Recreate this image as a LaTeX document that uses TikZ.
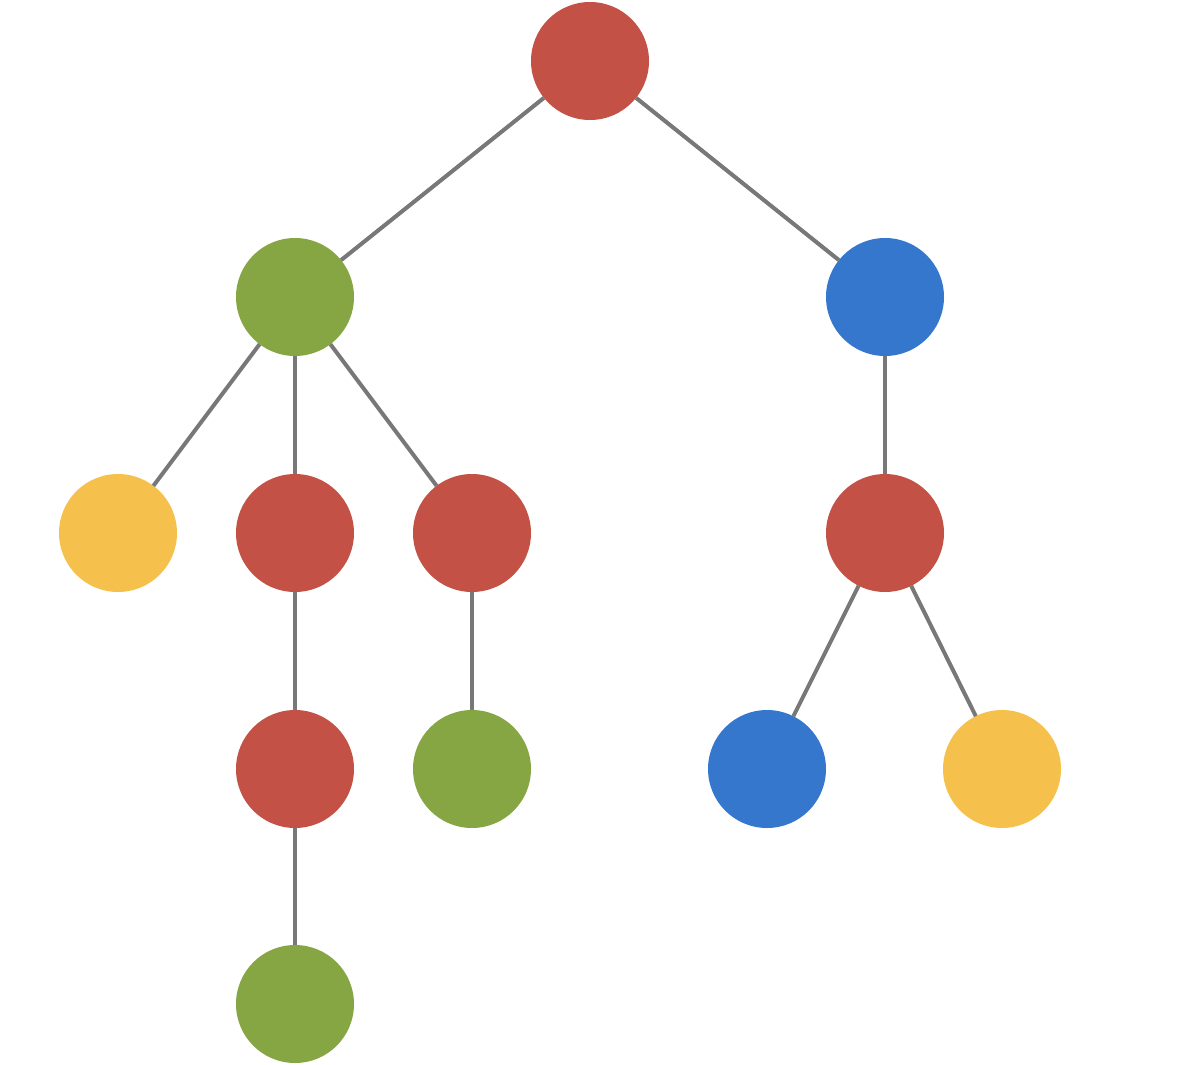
\documentclass[tikz,border=0pt]{standalone}
\definecolor{nred}{RGB}{195,81,69}
\definecolor{ngreen}{RGB}{134,166,68}
\definecolor{nblue}{RGB}{54,119,206}
\definecolor{nyellow}{RGB}{245,193,76}
\definecolor{edgegray}{RGB}{120,120,120}
\begin{document}
\begin{tikzpicture}[x=1bp,y=-1bp,
  dot/.style={circle,minimum size=118bp,inner sep=0pt,outer sep=0pt},
  rdot/.style={dot,fill=nred},
  gdot/.style={dot,fill=ngreen},
  bdot/.style={dot,fill=nblue},
  ydot/.style={dot,fill=nyellow},
  edge/.style={draw=edgegray,line width=4bp}]
\useasboundingbox (0,0) rectangle (1180,1065);
\node[rdot] (root) at (590,61) {};
\node[gdot] (g1) at (295,297) {};
\node[bdot] (b1) at (885,297) {};
\node[ydot] (y1) at (118,533) {};
\node[rdot] (r1) at (295,533) {};
\node[rdot] (r2) at (472,533) {};
\node[rdot] (r3) at (885,533) {};
\node[rdot] (r4) at (295,769) {};
\node[gdot] (g2) at (472,769) {};
\node[bdot] (b2) at (767,769) {};
\node[ydot] (y2) at (1002,769) {};
\node[gdot] (g3) at (295,1004) {};
\path[edge] (root) -- (g1);
\path[edge] (root) -- (b1);
\path[edge] (g1) -- (y1);
\path[edge] (g1) -- (r1);
\path[edge] (g1) -- (r2);
\path[edge] (b1) -- (r3);
\path[edge] (r1) -- (r4);
\path[edge] (r2) -- (g2);
\path[edge] (r3) -- (b2);
\path[edge] (r3) -- (y2);
\path[edge] (r4) -- (g3);
\end{tikzpicture}
\end{document}
